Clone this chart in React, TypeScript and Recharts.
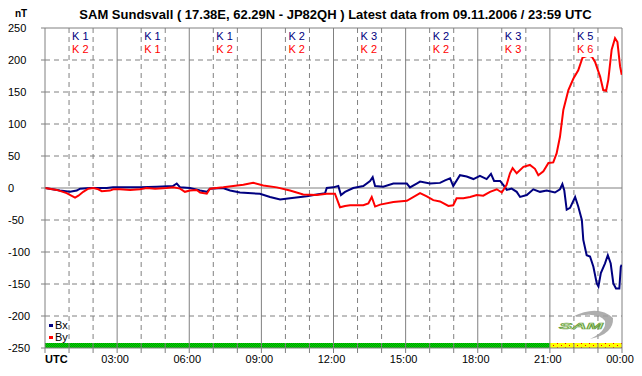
import React from 'react';
import { LineChart, Line, XAxis, YAxis, ReferenceLine, ReferenceArea, Legend } from 'recharts';

// ---- data ----
const bxTime = [0, 0.62, 1.04, 1.32, 1.46, 1.87, 2.57, 2.83, 3.95, 4.65, 5.32, 5.48, 5.62, 6.03, 6.45, 6.73, 6.86, 7.40, 7.70, 8.11, 8.94, 9.36, 9.78, 10.19, 10.89, 11.30, 11.65, 11.72, 11.99, 12.20, 12.31, 12.48, 12.82, 13.24, 13.52, 13.63, 13.73, 14.07, 14.49, 15.05, 15.18, 15.46, 15.60, 16.01, 16.43, 16.64, 16.85, 16.98, 17.26, 17.54, 17.82, 18.09, 18.37, 18.55, 18.68, 18.93, 19.06, 19.21, 19.41, 19.62, 19.76, 20.04, 20.31, 20.59, 20.87, 21.21, 21.42, 21.52, 21.60, 21.70, 21.84, 22.05, 22.18, 22.33, 22.39, 22.53, 22.67, 22.81, 22.95, 23.02, 23.12, 23.29, 23.41, 23.53, 23.64, 23.75, 23.89, 23.95, 23.99];
const bxValue = [0, -4, -6, -4, -1, 0, 0, 1, 1, 2, 3, 7, 1, 0, -4, -6, -1, 0, -4, -7, -9, -14, -18, -16, -13, -10, -8, 0, 1, 3, -11, -6, 0, 3, 11, 17, 3, 2, 7, 7, 1, 7, 10, 7, 8, 12, 15, 3, 20, 18, 14, 19, 14, 22, 11, 11, 5, -3, -1, -6, -14, -11, -2, -6, -4, -7, -2, 6, -4, -34, -31, -14, -29, -50, -81, -105, -107, -123, -149, -154, -133, -118, -105, -118, -149, -157, -157, -123, -120];

const byTime = [0, 0.49, 0.90, 1.25, 1.39, 1.59, 1.80, 2.01, 2.22, 2.36, 2.70, 2.84, 3.12, 3.54, 3.95, 4.23, 4.58, 5.06, 5.34, 5.62, 5.82, 6.03, 6.31, 6.45, 6.73, 6.86, 7.42, 7.83, 8.25, 8.66, 9.08, 9.64, 10.19, 10.74, 11.30, 11.72, 12.06, 12.27, 12.48, 12.69, 13.24, 13.45, 13.59, 13.73, 13.94, 14.49, 15.05, 15.60, 15.88, 16.15, 16.43, 16.78, 16.98, 17.12, 17.40, 17.68, 17.96, 18.23, 18.51, 18.79, 19.00, 19.20, 19.34, 19.45, 19.62, 19.90, 20.17, 20.38, 20.52, 20.73, 20.94, 21.14, 21.28, 21.42, 21.56, 21.77, 21.98, 22.18, 22.36, 22.59, 22.75, 22.88, 23.09, 23.22, 23.34, 23.43, 23.57, 23.71, 23.81, 23.92, 23.99];
const byValue = [0, -3, -8, -15, -12, -6, -1, 0, -2, -5, -4, -2, -2, -3, -2, 0, -1, 0, 1, -1, -6, -4, -3, -7, -9, -1, 1, 3, 5, 8, 4, 1, -4, -10, -11, -9, -9, -30, -28, -27, -27, -24, -14, -29, -26, -22, -20, -8, -13, -19, -21, -28, -27, -16, -16, -14, -11, -12, -6, -2, -7, 5, 23, 31, 23, 33, 36, 30, 20, 26, 39, 40, 54, 80, 122, 153, 171, 184, 204, 207, 205, 197, 174, 153, 152, 169, 216, 234, 228, 190, 177];

const kStartHour = [0, 3, 6, 9, 12, 15, 18, 21];
const kBx = [1, 1, 1, 2, 3, 2, 3, 5];
const kBy = [2, 1, 2, 2, 2, 2, 3, 6];

const hourTicks = Array.from({ length: 25 }, (_, i) => i);
const timeLabels = ['UTC', '03:00', '06:00', '09:00', '12:00', '15:00', '18:00', '21:00', '00:00'];
const yTicks = [250, 200, 150, 100, 50, 0, -50, -100, -150, -200, -250];
const yGrid = [200, 150, 100, 50, 0, -50, -100, -150, -200];

const statusStart = [0, 21];
const statusEnd = [21, 24];
const statusFill = ['url(#samGreen)', 'url(#samYellow)'];

const TITLE = 'SAM Sundsvall ( 17.38E, 62.29N - JP82QH ) Latest data from 09.11.2006 / 23:59 UTC';

const bxData = bxTime.map((t, i) => ({ t, v: bxValue[i] }));
const byData = byTime.map((t, i) => ({ t, v: byValue[i] }));

const GRAY = '#808080';
const FONT = '"Liberation Sans", Arial, sans-serif';
const NAVY = '#000080';
const RED = '#ff0000';

const XTick = (props: any) => {
  const { x, y, payload } = props;
  const v = payload.value;
  if (v % 3 !== 0) return null;
  const label = timeLabels[v / 3];
  const isUtc = v === 0;
  return (
    <text
      x={isUtc ? x : x - 2}
      y={y + 8}
      textAnchor={isUtc ? 'start' : 'middle'}
      fontFamily={FONT}
      fontSize={11}
      fontWeight={isUtc ? 'bold' : 'normal'}
      fill="#000"
    >
      {label}
    </text>
  );
};

const YTick = (props: any) => {
  const { y, payload } = props;
  return (
    <text x={8} y={y + 4} textAnchor="start" fontFamily={FONT} fontSize={11} fill="#000">
      {payload.value}
    </text>
  );
};

const KLabel = (props: any) => {
  const { viewBox, bx, by } = props;
  const x0 = viewBox.x;
  const top = viewBox.y;
  return (
    <g>
      <rect x={x0 + 1} y={top + 1} width={22} height={28} fill="#fff" />
      <text x={x0 + 3} y={top + 12} fontFamily={FONT} fontSize={11} fill={NAVY}>{`K ${bx}`}</text>
      <text x={x0 + 3} y={top + 25} fontFamily={FONT} fontSize={11} fill={RED}>{`K ${by}`}</text>
    </g>
  );
};

const renderLegend = (props: any) => {
  const { payload } = props;
  return (
    <div style={{ fontFamily: FONT, fontSize: 11, lineHeight: '12px' }}>
      {(payload || []).map((p: any) => (
        <div key={p.value} style={{ display: 'flex', alignItems: 'center', height: 12 }}>
          <span style={{ display: 'inline-block', width: 4, height: 3, background: p.color, marginRight: 2 }} />
          <span style={{ color: '#000' }}>{p.value}</span>
        </div>
      ))}
    </div>
  );
};

export default function App() {
  return (
    <div style={{ position: 'absolute', left: 0, top: 0, width: 642, height: 376, background: '#fff' }}>
      <svg width={0} height={0} style={{ position: 'absolute' }}>
        <defs>
          <pattern id="samGreen" width={2} height={2} patternUnits="userSpaceOnUse">
            <rect x={0} y={0} width={2} height={2} fill="#00e000" />
            <rect x={0} y={0} width={1} height={1} fill="#009000" />
            <rect x={1} y={1} width={1} height={1} fill="#009000" />
          </pattern>
          <pattern id="samYellow" width={8} height={4} patternUnits="userSpaceOnUse">
            <rect x={0} y={0} width={8} height={4} fill="#ffff00" />
            <rect x={1} y={1} width={1} height={1} fill="#ff0000" />
            <rect x={5} y={3} width={1} height={1} fill="#ff0000" />
          </pattern>
        </defs>
      </svg>
      <LineChart width={642} height={376} margin={{ top: 28, right: 20, bottom: 0, left: 0 }}>
        <XAxis
          type="number"
          dataKey="t"
          domain={[0, 24]}
          ticks={hourTicks}
          interval={0}
          height={28}
          tickSize={5}
          tickLine={{ stroke: GRAY }}
          axisLine={{ stroke: GRAY }}
          tick={<XTick />}
          allowDataOverflow
        />
        <YAxis
          type="number"
          domain={[-250, 250]}
          ticks={yTicks}
          interval={0}
          width={45}
          tickSize={4}
          tickLine={{ stroke: GRAY }}
          axisLine={{ stroke: GRAY }}
          tick={<YTick />}
          allowDataOverflow
        />
        {statusStart.map((s, i) => (
          <ReferenceArea key={`st${i}`} x1={s} x2={statusEnd[i]} y1={-250} y2={-242} fill={statusFill[i]} fillOpacity={1} stroke="none" />
        ))}
        {hourTicks.slice(1, 24).map((h) => (
          <ReferenceLine key={`vx${h}`} x={h} stroke={GRAY} strokeDasharray={h % 3 === 0 ? undefined : '5 4'} />
        ))}
        <ReferenceLine x={24} stroke={GRAY} />
        {yGrid.map((v) => (
          <ReferenceLine key={`hy${v}`} y={v} stroke={GRAY} strokeDasharray={v === 0 ? undefined : '5 4'} />
        ))}
        <ReferenceLine y={250} stroke={GRAY} />
        <Line data={bxData} dataKey="v" name="Bx" type="linear" stroke={NAVY} strokeWidth={2} dot={false} isAnimationActive={false} />
        <Line data={byData} dataKey="v" name="By" type="linear" stroke={RED} strokeWidth={2} dot={false} isAnimationActive={false} />
        {kStartHour.map((h, i) => (
          <ReferenceLine key={`k${h}`} x={h + 1} stroke="none" zIndex={2500} label={<KLabel bx={kBx[i]} by={kBy[i]} />} />
        ))}
        <Legend
          layout="vertical"
          align="center"
          verticalAlign="middle"
          content={renderLegend}
          wrapperStyle={{ left: 49, top: 319, width: 40, height: 24 }}
        />
      </LineChart>
      <svg width={642} height={376} style={{ position: 'absolute', left: 0, top: 0, pointerEvents: 'none' }}>
        <text x={15} y={17} fontFamily={FONT} fontSize={10} fontWeight="bold" fill="#000">nT</text>
        <text x={335.5} y={19} textAnchor="middle" fontFamily={FONT} fontSize={13} fontWeight="bold" fill="#000">{TITLE}</text>
        <g>
          <path d="M 572 317 Q 598 304 613 318 Q 614 334 590 339 Q 607 331 605 321 Q 598 311 572 317 Z" fill="#a0a0a0" opacity={0.85} />
          <text x={559} y={329} fontFamily={FONT} fontSize={9} fontStyle="italic" fontWeight="bold" textLength={44} lengthAdjust="spacingAndGlyphs" fill="#d8f0c0" stroke="#6aa040" strokeWidth={0.6}>SAM</text>
        </g>
      </svg>
    </div>
  );
}
